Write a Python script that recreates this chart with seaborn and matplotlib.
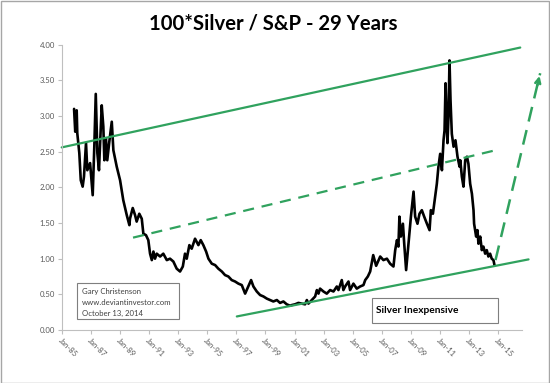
import matplotlib
matplotlib.use("Agg")
import matplotlib.pyplot as plt
from matplotlib.patches import Rectangle
import seaborn as sns
import pandas as pd

# ---- data (decimal years, 100*Silver/S&P ratio) ----
years = [1985.85, 1985.93, 1986.03, 1986.07, 1986.21, 1986.31, 1986.44, 1986.53, 1986.67, 1986.76,
         1986.95, 1987.13, 1987.24, 1987.34, 1987.45, 1987.56, 1987.75, 1987.86, 1987.93, 1988.04,
         1988.13, 1988.27, 1988.44, 1988.55, 1988.78, 1989.01, 1989.23, 1989.47, 1989.65, 1989.69,
         1989.88, 1990.04, 1990.15, 1990.33, 1990.50, 1990.61, 1990.79, 1990.95, 1991.07, 1991.19,
         1991.30, 1991.41, 1991.53, 1991.76, 1991.98, 1992.22, 1992.44, 1992.67, 1992.90, 1993.13,
         1993.32, 1993.47, 1993.59, 1993.77, 1993.93, 1994.16, 1994.39, 1994.55, 1994.73, 1994.92,
         1995.08, 1995.31, 1995.54, 1995.76, 1996.00, 1996.22, 1996.45, 1996.68, 1996.91, 1997.14,
         1997.37, 1997.60, 1997.82, 1998.01, 1998.17, 1998.40, 1998.63, 1998.86, 1999.09, 1999.32,
         1999.54, 1999.78, 2000.00, 2000.23, 2000.46, 2000.69, 2000.81, 2001.03, 2001.26, 2001.49,
         2001.72, 2001.84, 2001.95, 2002.18, 2002.41, 2002.53, 2002.64, 2002.75, 2002.98, 2003.21,
         2003.44, 2003.67, 2003.90, 2004.01, 2004.24, 2004.35, 2004.47, 2004.70, 2004.81, 2005.04,
         2005.27, 2005.50, 2005.73, 2005.85, 2006.03, 2006.19, 2006.40, 2006.60, 2006.88, 2007.10,
         2007.34, 2007.56, 2007.79, 2007.91, 2008.03, 2008.13, 2008.20, 2008.30, 2008.44, 2008.53,
         2008.66, 2008.82, 2008.99, 2009.17, 2009.28, 2009.44, 2009.58, 2009.74, 2009.90, 2010.09,
         2010.27, 2010.36, 2010.50, 2010.59, 2010.77, 2010.88, 2011.00, 2011.12, 2011.23, 2011.30,
         2011.37, 2011.44, 2011.50, 2011.57, 2011.64, 2011.71, 2011.80, 2011.92, 2012.05, 2012.19,
         2012.33, 2012.38, 2012.49, 2012.60, 2012.72, 2012.84, 2012.94, 2013.06, 2013.18, 2013.29,
         2013.33, 2013.47, 2013.56, 2013.63, 2013.75, 2013.86, 2013.97, 2014.09, 2014.20, 2014.31,
         2014.43, 2014.54, 2014.66, 2014.73]
ratio = [3.10, 2.78, 3.08, 2.76, 2.48, 2.10, 2.01, 2.15, 2.62, 2.24,
         2.34, 1.89, 2.57, 3.31, 2.48, 2.24, 3.15, 2.85, 2.38, 2.69,
         2.38, 2.64, 2.92, 2.52, 2.29, 2.10, 1.82, 1.61, 1.47, 1.56,
         1.71, 1.61, 1.52, 1.63, 1.56, 1.35, 1.33, 1.26, 1.07, 0.98,
         1.10, 1.00, 1.07, 1.03, 1.07, 0.98, 1.00, 0.96, 0.86, 0.82,
         0.89, 1.07, 1.00, 1.19, 1.14, 1.28, 1.19, 1.26, 1.19, 1.10,
         1.00, 0.93, 0.91, 0.86, 0.82, 0.77, 0.75, 0.70, 0.68, 0.65,
         0.63, 0.51, 0.61, 0.70, 0.61, 0.54, 0.49, 0.47, 0.44, 0.42,
         0.40, 0.42, 0.38, 0.40, 0.36, 0.34, 0.35, 0.36, 0.38, 0.37,
         0.36, 0.42, 0.37, 0.42, 0.47, 0.56, 0.51, 0.58, 0.54, 0.51,
         0.56, 0.54, 0.61, 0.56, 0.70, 0.56, 0.61, 0.68, 0.56, 0.65,
         0.58, 0.61, 0.63, 0.70, 0.75, 0.82, 1.05, 0.90, 1.03, 0.98,
         1.00, 0.93, 0.89, 1.12, 1.26, 1.17, 1.59, 1.31, 1.49, 1.21,
         0.84, 1.21, 1.59, 1.94, 1.59, 1.49, 1.63, 1.68, 1.59, 1.49,
         1.40, 1.68, 1.63, 1.77, 2.05, 2.29, 2.47, 2.24, 2.66, 2.80,
         3.46, 2.94, 2.62, 2.99, 3.78, 3.22, 2.75, 2.57, 2.66, 2.43,
         2.29, 2.38, 2.15, 2.01, 2.38, 2.43, 2.33, 2.05, 1.91, 1.68,
         1.49, 1.31, 1.40, 1.21, 1.31, 1.12, 1.17, 1.07, 1.12, 1.03,
         1.07, 1.00, 0.98, 0.91]

# trend lines: (x0, y0, x1, y1)
upper_channel = [1985.0, 2.56, 2016.5, 3.96]
middle_channel = [1989.90, 1.295, 2014.80, 2.52]
lower_channel = [1997.03, 0.19, 2017.07, 0.99]
arrow_line = [2014.80, 0.98, 2017.87, 3.60]

y_ticks = [0.0, 0.5, 1.0, 1.5, 2.0, 2.5, 3.0, 3.5, 4.0]
x_ticks = list(range(1985, 2016, 2))
x_labels = ["Jan-%02d" % (y % 100) for y in x_ticks]

title = "100*Silver / S&P - 29 Years"
credit_lines = ["Gary Christenson", "www.deviantinvestor.com", "October 13, 2014"]
box_label = "Silver Inexpensive"

# ---- style ----
sns.set_theme(style="white")
plt.rcParams["font.family"] = ["Lato", "DejaVu Sans"]
GREEN = "#30A25E"
GRAY_TXT = "#595959"
GRAY_AX = "#BFBFBF"

W, H = 550, 383
fig = plt.figure(figsize=(5.5, 3.83), dpi=100)
ax = fig.add_axes([61.7 / W, 1 - 330 / H, (521.7 - 61.7) / W, (330 - 44.7) / H])

df = pd.DataFrame({"year": years, "ratio": ratio})
sns.lineplot(data=df, x="year", y="ratio", color="black", lw=1.9, estimator=None,
             sort=False, ax=ax)

ax.plot(upper_channel[0::2], upper_channel[1::2], color=GREEN, lw=1.6, clip_on=False)
ax.plot(middle_channel[0::2], middle_channel[1::2], color=GREEN, lw=1.6,
        dashes=(5, 3.5), clip_on=False)
ax.plot(lower_channel[0::2], lower_channel[1::2], color=GREEN, lw=1.6, clip_on=False)
ax.plot(arrow_line[0::2], arrow_line[1::2], color=GREEN, lw=1.8, dashes=(6, 3.5),
        clip_on=False)
# arrow head
dx = arrow_line[2] - arrow_line[0]
dy = arrow_line[3] - arrow_line[1]
ax.annotate("", xy=(arrow_line[2], arrow_line[3]),
            xytext=(arrow_line[2] - dx * 0.08, arrow_line[3] - dy * 0.08),
            arrowprops=dict(arrowstyle="->", color=GREEN, lw=1.8, mutation_scale=9),
            annotation_clip=False)

ax.set_xlim(1985.0, 2016.6)
ax.set_ylim(0, 4.0)
ax.set_yticks(y_ticks)
ax.set_yticklabels(["%.2f" % v for v in y_ticks])
ax.set_xticks(x_ticks)
ax.set_xticklabels(x_labels, rotation=-45, ha="left", va="top", rotation_mode="anchor")
ax.set_xlabel("")
ax.set_ylabel("")
for s in ["top", "right"]:
    ax.spines[s].set_visible(False)
for s in ["left", "bottom"]:
    ax.spines[s].set_color(GRAY_AX)
    ax.spines[s].set_linewidth(0.8)
ax.tick_params(axis="both", which="major", direction="out", length=3, width=0.8,
               color=GRAY_AX, labelcolor=GRAY_TXT, labelsize=5.6, pad=2,
               left=True, bottom=True)

# title
fig.text(273.6 / W, 1 - 29 / H, title, ha="center", va="baseline",
         fontsize=14.6, fontweight="bold", color="black")

# credit box
fig.add_artist(Rectangle((76.7 / W, 1 - 319.3 / H), (179.3 - 76.7) / W, (319.3 - 282.7) / H,
                         transform=fig.transFigure, fill=True, facecolor="white",
                         edgecolor="#7F7F7F", lw=0.8))
for i, line in enumerate(credit_lines):
    fig.text(82 / W, 1 - (291.5 + i * 10.8) / H, line, ha="left", va="center",
             fontsize=5.6, color="#404040")

# Silver Inexpensive box
fig.add_artist(Rectangle((371.7 / W, 1 - 323.3 / H), (498.3 - 371.7) / W, (323.3 - 298.3) / H,
                         transform=fig.transFigure, fill=True, facecolor="white",
                         edgecolor="#7F7F7F", lw=0.8))
fig.text(376.5 / W, 1 - 310.5 / H, box_label, ha="left", va="center",
         fontsize=7.3, fontweight="bold", color="black")

# outer chart border
fig.add_artist(Rectangle((0.5 / W, 0.5 / H), 1 - 1.5 / W, 1 - 1.5 / H,
                         transform=fig.transFigure, fill=False,
                         edgecolor="#A6A6A6", lw=1.0))

fig.savefig("out.png", dpi=100)
